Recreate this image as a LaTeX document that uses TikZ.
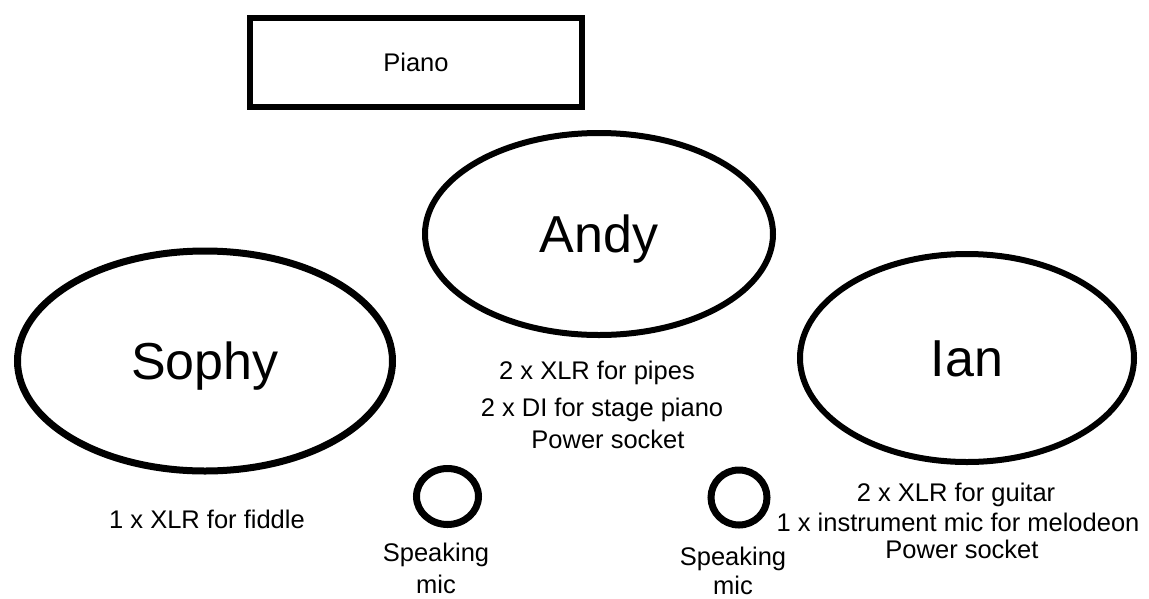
\documentclass[tikz,border=0pt]{standalone}
\usepackage{fontspec}
\setmainfont{Liberation Sans}
\usetikzlibrary{shapes.geometric}
\begin{document}
\begin{tikzpicture}[x=1pt,y=-1pt,
  person/.style={draw=black, line width=6pt, ellipse, inner sep=0pt,
    font=\fontsize{52}{60}\selectfont, text height=37pt, text depth=0pt},
  mic/.style={draw=black, line width=7pt, ellipse, inner sep=0pt},
  stagebox/.style={draw=black, line width=6pt, rectangle, inner sep=0pt,
    font=\fontsize{25.5}{30}\selectfont},
  note/.style={font=\fontsize{25.5}{30}\selectfont, anchor=base, inner sep=0pt}]
\useasboundingbox (0,0) rectangle (1149,598);
\fill[white] (0,0) rectangle (1149,598);
% piano
\node[stagebox, minimum width=332.5pt, minimum height=89pt] (piano) at (416,62.5) {Piano};
% musicians
\node[person, minimum width=348pt, minimum height=202pt] (andy) at (599,234) {Andy};
\node[person, line width=7pt, minimum width=375pt, minimum height=220pt] (sophy) at (205,361) {Sophy};
\node[person, minimum width=334pt, minimum height=208pt] (ian) at (967,358) {Ian};
% speaking mics
\node[mic, minimum width=62pt, minimum height=56pt] (micL) at (447.5,496.5) {};
\node[mic, minimum width=56pt, minimum height=55pt] (micR) at (739,497.5) {};
% Andy's needs
\node[note] (a1) at (597,379) {2 x XLR for pipes};
\node[note] (a2) at (602,416) {2 x DI for stage piano};
\node[note] (a3) at (608,448) {Power socket};
% Sophy's needs
\node[note] (s1) at (207,528) {1 x XLR for fiddle};
% Ian's needs
\node[note] (i1) at (956,501) {2 x XLR for guitar};
\node[note] (i2) at (958,531) {1 x instrument mic for melodeon};
\node[note] (i3) at (962,558) {Power socket};
% mic labels
\node[note] (mlA) at (436,561) {Speaking};
\node[note] (mlB) at (436,593) {mic};
\node[note] (mrA) at (733,565) {Speaking};
\node[note] (mrB) at (733,594) {mic};
\end{tikzpicture}
\end{document}
